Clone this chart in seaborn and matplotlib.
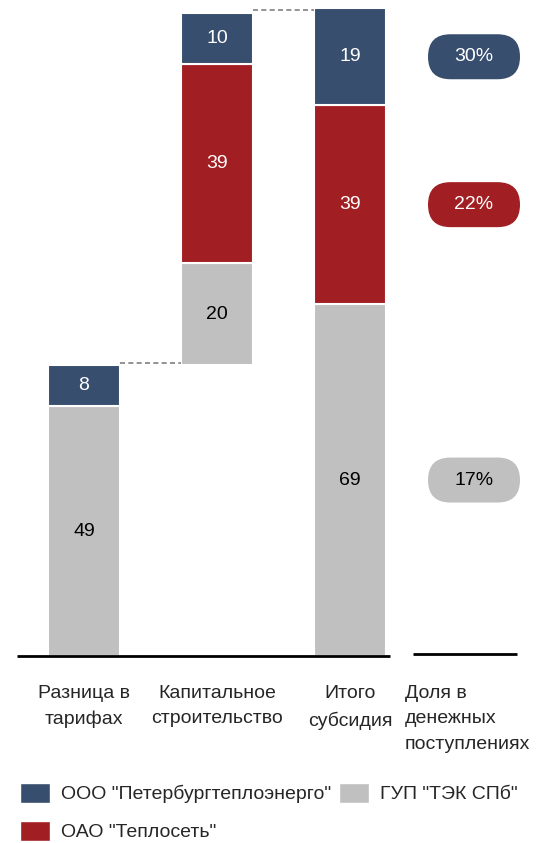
import matplotlib
matplotlib.use("Agg")
import matplotlib.pyplot as plt
from matplotlib import font_manager
from matplotlib.patches import FancyBboxPatch, Patch
import seaborn as sns
import pandas as pd
import numpy as np

# ---------------- data ----------------
categories = ["Разница в\nтарифах", "Капитальное\nстроительство", "Итого\nсубсидия"]
share_label = "Доля в\nденежных\nпоступлениях"
series_names = ['ГУП "ТЭК СПб"', 'ОАО "Теплосеть"', 'ООО "Петербургтеплоэнерго"']
gup = [49, 20, 69]
teploset = [0, 39, 39]
pte = [8, 10, 19]
base = [0, 57, 0]          # floating start of each bar (waterfall)
shares = ["17%", "22%", "30%"]   # gray, red, navy

colors = {"gup": "#C0C0C0", "red": "#A11F22", "navy": "#374E6E"}

# ---------------- fonts ----------------
sns.set_theme(style="white")
names = {f.name for f in font_manager.fontManager.ttflist}
if "Liberation Sans Narrow" in names:
    fam = ["Liberation Sans Narrow", "DejaVu Sans"]
    fs = 16
else:
    fam = ["Liberation Sans", "DejaVu Sans"]
    fs = 14
plt.rcParams["font.family"] = fam
fspx = fs * 100 / 72

W, H = 556, 843
fig = plt.figure(figsize=(W / 100, H / 100), dpi=100)
ax = fig.add_axes([0, 0, 1, 1])
ax.set_axis_off()

# pixel mapping helpers
x0px, dxpx = 84, 133
y0px, sy = 656, 5.1
bw = 72 / dxpx
df = pd.DataFrame({"cat": categories, "gup": gup, "red": teploset, "navy": pte, "base": base})
df["b_red"] = df["base"] + df["gup"]
df["b_navy"] = df["b_red"] + df["red"]

common = dict(data=df, x="cat", width=bw, edgecolor="white", linewidth=1.5, ax=ax)
sns.barplot(y="gup", bottom=df["base"].to_numpy(), color=colors["gup"], saturation=1, **common)
sns.barplot(y="red", bottom=df["b_red"].to_numpy(), color=colors["red"], saturation=1, **common)
sns.barplot(y="navy", bottom=df["b_navy"].to_numpy(), color=colors["navy"], saturation=1, **common)
ax.set_xlim((0 - x0px) / dxpx, (W - x0px) / dxpx)
ax.set_ylim((y0px - H) / sy, y0px / sy)
ax.set_axis_off()

# segment labels
for i in range(3):
    segs = [(df["base"][i], df["gup"][i], "black"),
            (df["b_red"][i], df["red"][i], "white"),
            (df["b_navy"][i], df["navy"][i], "white")]
    for b, h, c in segs:
        if h > 0:
            ax.text(i, b + h / 2, str(h), ha="center", va="center", color=c, fontsize=fs)

# connectors
tot = [df["b_navy"][i] + df["navy"][i] for i in range(3)]
ax.plot([0 + bw / 2, 1 - bw / 2], [tot[0] + 0.4, tot[0] + 0.4], ls=(0, (3, 2)), color="#808080", lw=1.2)
ax.plot([1 + bw / 2, 2 - bw / 2], [tot[1] + 0.7, tot[1] + 0.7], ls=(0, (3, 2)), color="#808080", lw=1.2)

# baseline
ax.plot([(17 - x0px) / dxpx, (390 - x0px) / dxpx], [0, 0], color="black", lw=2, solid_capstyle="butt")
ax.plot([(413 - x0px) / dxpx, (517 - x0px) / dxpx], [0.4, 0.4], color="black", lw=2, solid_capstyle="butt")

# category labels
ylab = (y0px - 685) / sy
for i, c in enumerate(categories):
    ax.text(i, ylab, c, ha="center", va="top", fontsize=fs, linespacing=1.65)
ax.text((405 - x0px) / dxpx, ylab, share_label, ha="left", va="top", fontsize=fs, linespacing=1.65)

# share pills aligned with total bar segments
mids = [df["gup"][2] / 2, df["b_red"][2] + df["red"][2] / 2, df["b_navy"][2] + df["navy"][2] / 2]
pill_cols = [colors["gup"], colors["red"], colors["navy"]]
txt_cols = ["black", "white", "white"]
px_c = 474
pw, ph = 92, 45
for m, s, pc, tc in zip(mids, shares, pill_cols, txt_cols):
    ypx = (y0px - m * sy)  # from top
    cy = (H - ypx) / 100
    cx = px_c / 100
    p = FancyBboxPatch((cx - pw / 200 + ph / 200, cy), pw / 100 - ph / 100, 0,
                       boxstyle=f"round,pad={ph/200},rounding_size={ph/200}",
                       transform=fig.dpi_scale_trans, facecolor=pc, edgecolor="none")
    fig.add_artist(p)
    fig.text(cx, cy, s, ha="center", va="center", color=tc, fontsize=fs, transform=fig.dpi_scale_trans)

# legend
handles = [Patch(facecolor=colors["navy"], label=series_names[2]),
           Patch(facecolor=colors["red"], label=series_names[1]),
           Patch(facecolor=colors["gup"], label=series_names[0])]
fig.legend(handles=handles, ncol=2, loc="upper left", bbox_to_anchor=(20 / W, 1 - 783 / H),
           frameon=False, fontsize=fs, handlelength=30 / fspx, handleheight=23 / fspx,
           handletextpad=11 / fspx, columnspacing=0.4, labelspacing=0.9, borderpad=0, borderaxespad=0)

fig.savefig("out.png", dpi=100)
